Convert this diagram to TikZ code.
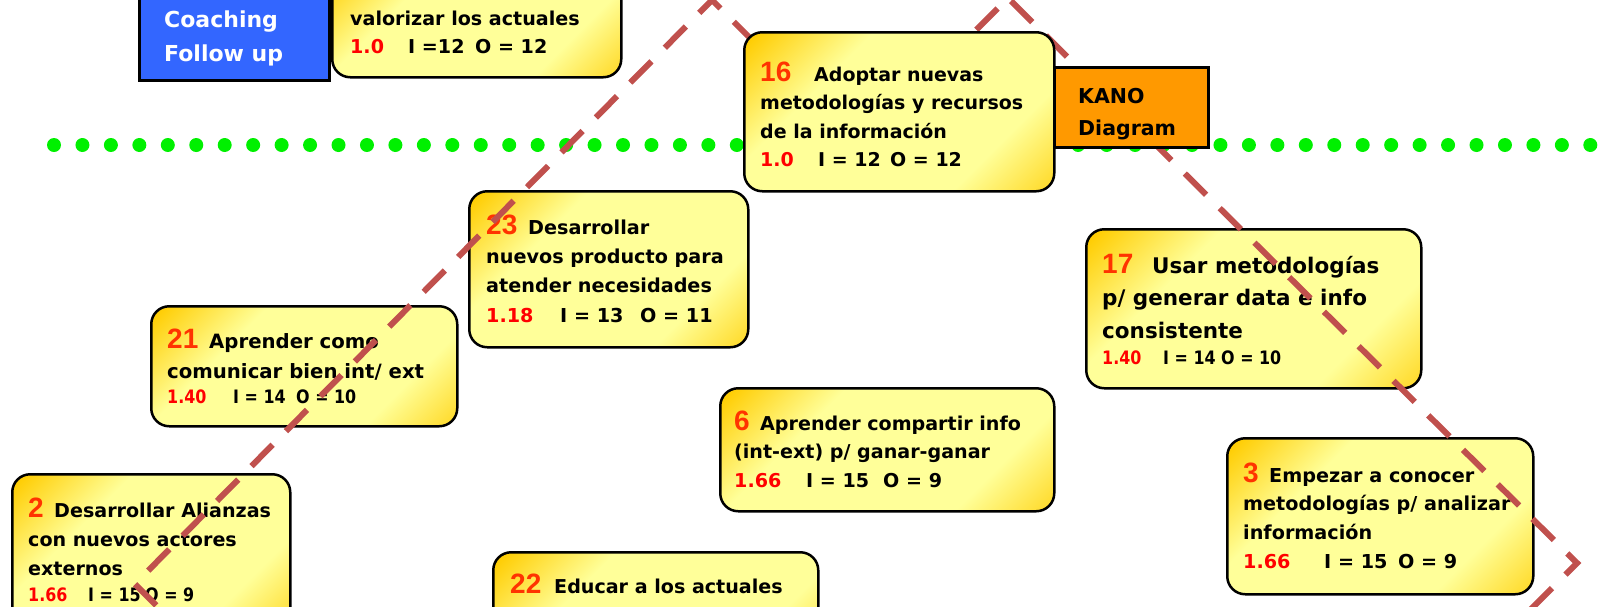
\documentclass[tikz,border=0pt]{standalone}
\usepackage{fontspec}
\setmainfont{DejaVu Sans}
\newfontfamily\numfont{Liberation Sans}
\newfontfamily\narrowfont[FakeStretch=0.86]{DejaVu Sans}
\usepackage{xcolor}
\definecolor{kanogold}{RGB}{255,204,0}
\definecolor{kanolight}{RGB}{255,255,153}
\definecolor{coachblue}{RGB}{51,102,255}
\definecolor{kanoorange}{RGB}{255,153,0}
\definecolor{dotgreen}{RGB}{0,240,0}
\definecolor{dashred}{RGB}{192,80,77}
\definecolor{numred}{RGB}{255,0,0}
\definecolor{leadred}{RGB}{255,51,0}

\pgfdeclareverticalshading{kanoshade}{100bp}{color(0bp)=(kanogold); color(10bp)=(kanogold);
  color(30bp)=(kanolight); color(66bp)=(kanolight); color(84bp)=(kanogold); color(100bp)=(kanogold)}

\newcommand\bignum[1]{{\numfont\bfseries\fontsize{28}{28}\selectfont\color{leadred}#1}}
\newcommand\leadline[3]{\rule{0pt}{22pt}\makebox[#1][l]{\bignum{#2}}#3}
\newcommand\metric[5]{\makebox[#1][l]{\color{numred}#2}\makebox[#3][l]{#4}#5}
\newcommand\narrowmetric{\narrowfont\bfseries\fontsize{18.5}{18.5}\selectfont}

\tikzset{
  kanobox/.style={draw=black, line width=2.5pt, rounded corners=18pt,
    shading=kanoshade, shading angle=45, anchor=north west, inner sep=0pt},
  flatbox/.style={draw=black, line width=3pt, fill=#1, anchor=north west, inner sep=0pt},
  itemtext/.style 2 args={anchor=north west, inner sep=0pt, align=left,
    font=\bfseries\fontsize{#1}{#2}\selectfont},
  kanoline/.style={draw=dashred, line width=6pt, dash pattern=on 30pt off 19pt}
}

\begin{document}
\begin{tikzpicture}[x=1pt, y=-1pt]
  \useasboundingbox (0,0) rectangle (1601,606);
  \clip (0,0) rectangle (1601,606);

  % --- Green dotted threshold ---
  \foreach \k in {0,...,54}
    \fill[dotgreen] ({54+28.45*\k},145) circle[radius=7pt];

  % --- Coaching tag ---
  \node[flatbox=coachblue, minimum width=190pt, minimum height=89pt] (coach) at (138,-10) {};
  \node[itemtext={22}{34}, text=white] (coachtxt) at (164,5) {\rule{0pt}{22pt}Coaching\\Follow up};

  % --- Items below the curve ---
  \node[kanobox, minimum width=289pt, minimum height=116pt] (box0) at (331,-40) {};
  \node[itemtext={19.1}{28}] (txt0) at (350,3)
    {\rule{0pt}{22pt}valorizar los actuales\\\metric{58pt}{1.0}{67pt}{I =12}{O = 12}};

  \node[kanobox, minimum width=279pt, minimum height=156pt] (box23) at (468,190) {};
  \node[itemtext={19.2}{29.3}] (txt23) at (486,212)
    {\leadline{42pt}{23}{Desarrollar}\\nuevos producto para\\atender necesidades\\
     \metric{74pt}{1.18}{80pt}{I = 13}{O = 11}};

  \node[kanobox, minimum width=306pt, minimum height=120pt] (box21) at (150,305) {};
  \node[itemtext={19.7}{30.5}] (txt21) at (167,326)
    {\leadline{42pt}{21}{Aprender como}\\comunicar bien int/ ext\\[-5.5pt]
     {\narrowmetric\metric{66pt}{1.40}{63pt}{I = 14}{O = 10}}};

  \node[kanobox, minimum width=278pt, minimum height=160pt] (box2) at (11,473) {};
  \node[itemtext={19.1}{29}] (txt2) at (28,495)
    {\leadline{26pt}{2}{Desarrollar Alianzas}\\con nuevos actores\\externos\\[-3pt]
     {\narrowmetric\metric{60pt}{1.66}{57pt}{I = 15}{O = 9}}};

  \node[kanobox, minimum width=325pt, minimum height=120pt] (box22) at (492,551) {};
  \node[itemtext={19.1}{29}] (txt22) at (510,571)
    {\leadline{44pt}{22}{Educar a los actuales}};

  \node[kanobox, minimum width=334pt, minimum height=123pt] (box6) at (719,387) {};
  \node[itemtext={19.1}{28.5}] (txt6) at (734,408)
    {\leadline{26pt}{6}{Aprender compartir info}\\(int-ext) p/ ganar-ganar\\
     \metric{72pt}{1.66}{77pt}{I = 15}{O = 9}};

  \node[kanobox, minimum width=335pt, minimum height=159pt] (box17) at (1085,228) {};
  \node[itemtext={21.5}{32.5}] (txt17) at (1102,251)
    {\leadline{50pt}{17}{Usar metodologías}\\p/ generar data e info\\consistente\\[-6.5pt]
     {\narrowmetric\metric{61pt}{1.40}{58pt}{I = 14}{O = 10}}};

  \node[kanobox, minimum width=306pt, minimum height=156pt] (box3) at (1226,437) {};
  \node[itemtext={19.2}{28.7}] (txt3) at (1243,460)
    {\leadline{26pt}{3}{Empezar a conocer}\\metodologías p/ analizar\\información\\
     \metric{81pt}{1.66}{74pt}{I = 15}{O = 9}};

  % --- Dashed curve ---
  \draw[kanoline] (191,640) -- (135,584) -- (712,0) -- (859,147)
    -- (1008,-2) -- (1577,563) -- (1500,640);

  % --- KANO tag and item 16 on top ---
  \node[flatbox=kanoorange, minimum width=154pt, minimum height=80pt] (kano) at (1053,66) {};
  \node[itemtext={20.5}{32}] (kanotxt) at (1078,81) {\rule{0pt}{22pt}KANO\\Diagram};

  \node[kanobox, minimum width=310pt, minimum height=159pt] (box16) at (743,31) {};
  \node[itemtext={19}{28.4}] (txt16) at (760,59)
    {\leadline{54pt}{16}{Adoptar nuevas}\\metodologías y recursos\\de la información\\
     \metric{58pt}{1.0}{72pt}{I = 12}{O = 12}};

\end{tikzpicture}
\end{document}
